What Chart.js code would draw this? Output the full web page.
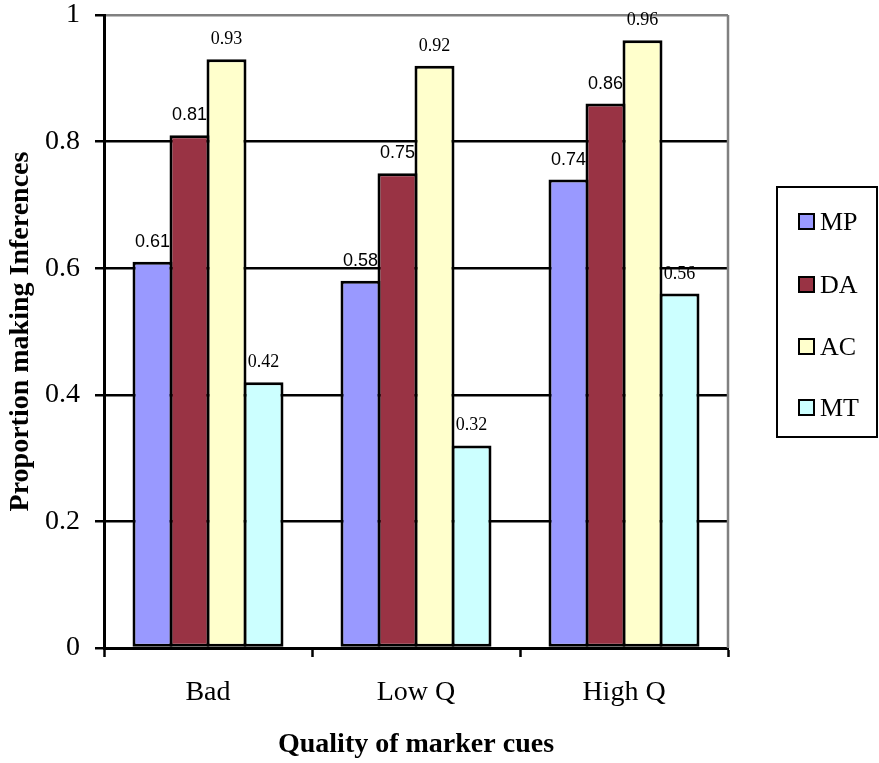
<!DOCTYPE html>
<html>
<head>
<meta charset="utf-8">
<script src="https://cdn.jsdelivr.net/npm/chart.js@4"></script>
<style>
  html, body { margin: 0; padding: 0; background: #fff; }
  #wrap { width: 879px; height: 763px; position: relative; }
</style>
</head>
<body>
<div id="wrap"><canvas id="c" width="879" height="763"></canvas></div>
<script>
// ---- data ----
const categories = ['Bad', 'Low Q', 'High Q'];
const seriesNames = ['MP', 'DA', 'AC', 'MT'];
const mpValues = [0.61, 0.58, 0.74];
const daValues = [0.81, 0.75, 0.86];
const acValues = [0.93, 0.92, 0.96];
const mtValues = [0.42, 0.32, 0.56];
const yTicks = [0, 0.2, 0.4, 0.6, 0.8, 1];
const yTitle = 'Proportion making Inferences';
const xTitle = 'Quality of marker cues';

// ---- styles ----
const colors = ['#9999FF', '#993344', '#FFFFCC', '#CCFFFF'];
const labelFonts = [
  '18px "Liberation Sans", Arial, sans-serif',
  '18px "Liberation Sans", Arial, sans-serif',
  '18px "Liberation Serif", "Times New Roman", serif',
  '18px "Liberation Serif", "Times New Roman", serif'
];
const SERIF = '"Liberation Serif", "Times New Roman", serif';

const allValues = [mpValues, daValues, acValues, mtValues];
const datasets = seriesNames.map((name, i) => ({
  label: name,
  data: allValues[i],
  backgroundColor: colors[i],
  borderColor: '#000',
  borderWidth: 3,
  borderSkipped: false,
  categoryPercentage: 0.7115,
  barPercentage: 1.081
}));

const valueLabels = {
  id: 'valueLabels',
  afterDatasetsDraw(chart) {
    const ctx = chart.ctx;
    ctx.save();
    ctx.fillStyle = '#000';
    ctx.textAlign = 'center';
    ctx.textBaseline = 'alphabetic';
    chart.data.datasets.forEach((ds, di) => {
      const meta = chart.getDatasetMeta(di);
      ctx.font = labelFonts[di];
      meta.data.forEach((el, i) => {
        ctx.fillText(ds.data[i].toFixed(2), el.x, el.y - 15);
      });
    });
    ctx.restore();
  }
};

const frame = {
  id: 'frame',
  beforeDatasetsDraw(chart) {
    const {ctx, chartArea} = chart;
    ctx.save();
    ctx.strokeStyle = '#808080';
    ctx.lineWidth = 2.5;
    ctx.beginPath();
    ctx.moveTo(chartArea.right, chartArea.top);
    ctx.lineTo(chartArea.right, chartArea.bottom);
    ctx.stroke();
    ctx.restore();
  }
};

const customLegend = {
  id: 'customLegend',
  afterDraw(chart) {
    const ctx = chart.ctx;
    const box = {x: 777, y: 187, w: 100, h: 250};
    ctx.save();
    ctx.strokeStyle = '#000';
    ctx.lineWidth = 2;
    ctx.strokeRect(box.x, box.y, box.w, box.h);
    const rowY = [222, 285, 347, 408];
    ctx.font = '26px ' + SERIF;
    ctx.textBaseline = 'middle';
    ctx.textAlign = 'left';
    chart.data.datasets.forEach((ds, i) => {
      const y = rowY[i];
      ctx.fillStyle = ds.backgroundColor;
      ctx.fillRect(799, y - 8, 15, 15);
      ctx.strokeStyle = '#000';
      ctx.lineWidth = 2;
      ctx.strokeRect(799, y - 8, 15, 15);
      ctx.fillStyle = '#000';
      ctx.fillText(ds.label, 820, y + 1);
    });
    ctx.restore();
  }
};

Chart.defaults.color = '#000';

new Chart(document.getElementById('c'), {
  type: 'bar',
  data: { labels: categories, datasets },
  options: {
    responsive: false,
    animation: false,
    devicePixelRatio: 1,
    layout: { padding: { left: 0, right: 151, top: 1, bottom: 0 } },
    plugins: {
      legend: { display: false },
      tooltip: { enabled: false }
    },
    scales: {
      x: {
        grid: {
          display: true,
          drawOnChartArea: false,
          drawTicks: true,
          tickLength: 9,
          tickWidth: 2.5,
          tickColor: '#000',
          offset: true
        },
        border: { display: true, color: '#000', width: 3 },
        ticks: {
          font: { family: SERIF, size: 28, lineHeight: 1.2 },
          color: '#000',
          padding: 19,
          maxRotation: 0
        },
        title: {
          display: true,
          text: xTitle,
          color: '#000',
          font: { family: SERIF, size: 28, weight: 'bold', lineHeight: 1.2 },
          padding: { top: 0, bottom: 1 }
        },
        afterFit(scale) { scale.height = 115; }
      },
      y: {
        min: 0,
        max: 1,
        afterBuildTicks(scale) { scale.ticks = yTicks.map(v => ({ value: v })); },
        grid: {
          color: (c) => (c.tick && c.tick.value === 1 ? '#808080' : '#000'),
          lineWidth: 2.5,
          drawTicks: true,
          tickLength: 9,
          tickColor: '#000',
          tickWidth: 2.5
        },
        border: { display: true, color: '#000', width: 3 },
        ticks: {
          font: { family: SERIF, size: 28, lineHeight: 0 },
          color: '#000',
          padding: 15,
          callback: (v) => String(v)
        },
        title: {
          display: true,
          text: yTitle,
          color: '#000',
          font: { family: SERIF, size: 28, weight: 'bold', lineHeight: 1.2 },
          padding: { top: 4, bottom: 0 }
        },
        afterFit(scale) { scale.width = 104; }
      }
    }
  },
  plugins: [valueLabels, frame, customLegend]
});
</script>
</body>
</html>
